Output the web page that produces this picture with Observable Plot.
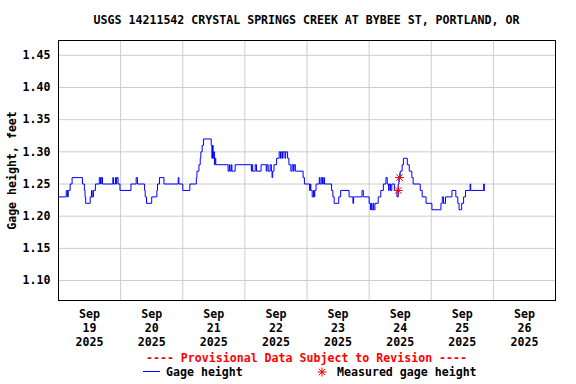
<!DOCTYPE html>
<html><head><meta charset="utf-8">
<script src="https://cdn.jsdelivr.net/npm/d3@7"></script>
<script src="https://cdn.jsdelivr.net/npm/@observablehq/plot@0.6"></script>
<style>
body{margin:0;background:#fff;}
#wrap{position:relative;width:576px;height:384px;overflow:hidden;font-family:"DejaVu Sans Mono",monospace;font-weight:bold;font-size:11.6px;color:#000;}
.t{position:absolute;left:58px;width:497px;text-align:center;line-height:14px;white-space:pre;}
#chart{position:absolute;left:0;top:30px;}
.lg{position:absolute;line-height:14px;white-space:pre;}
</style></head>
<body><div id="wrap">
<div class="t" id="title" style="top:13px"></div>
<div id="chart"></div>
<div class="t" id="prov" style="top:351px;color:#ff0000"></div>
<div id="legend"></div>
</div>
<script>
const title = "USGS 14211542 CRYSTAL SPRINGS CREEK AT BYBEE ST, PORTLAND, OR";
const year = "2025";
const times = [
"09-19 00:00","09-19 03:00","09-19 03:30","09-19 03:45","09-19 04:30","09-19 05:15","09-19 09:15","09-19 10:00","09-19 10:15","09-19 10:30",
"09-19 12:15","09-19 12:45","09-19 13:00","09-19 13:30","09-19 14:15","09-19 15:45","09-19 16:15","09-19 16:30","09-19 17:00","09-19 21:00",
"09-19 21:15","09-19 22:00","09-19 22:15","09-19 22:30","09-19 23:00","09-19 23:45",
"09-20 04:00","09-20 06:00","09-20 06:30","09-20 09:15","09-20 09:30","09-20 10:00","09-20 12:00","09-20 14:00","09-20 14:15","09-20 15:00",
"09-20 16:45","09-20 22:15","09-20 22:30",
"09-21 00:00","09-21 02:45","09-21 05:15","09-21 05:30","09-21 06:15","09-21 06:45","09-21 07:00","09-21 07:30","09-21 08:00","09-21 11:00",
"09-21 11:15","09-21 11:30","09-21 11:45","09-21 12:00","09-21 12:15","09-21 12:30","09-21 12:45","09-21 17:30","09-21 18:00","09-21 18:15",
"09-21 18:45","09-21 19:00","09-21 20:15",
"09-22 02:30","09-22 02:45","09-22 03:00","09-22 04:00","09-22 04:30","09-22 06:15","09-22 08:15","09-22 08:30","09-22 09:00","09-22 09:45",
"09-22 10:15","09-22 10:30","09-22 10:45","09-22 11:15","09-22 12:15","09-22 13:15","09-22 13:45","09-22 14:00","09-22 14:30","09-22 14:45",
"09-22 15:30","09-22 15:45","09-22 16:30","09-22 17:00","09-22 17:45","09-22 18:15","09-22 18:45","09-22 19:00","09-22 19:30","09-22 22:30",
"09-22 23:00",
"09-23 01:00","09-23 01:15","09-23 01:30","09-23 02:00","09-23 02:30","09-23 02:45","09-23 03:00","09-23 03:30","09-23 04:45","09-23 05:00",
"09-23 05:30","09-23 06:00","09-23 06:30","09-23 06:45","09-23 09:30","09-23 10:00","09-23 10:30","09-23 12:15","09-23 13:00","09-23 16:15",
"09-23 17:45","09-23 18:00","09-23 21:15","09-23 21:45",
"09-24 00:00","09-24 00:30","09-24 00:45","09-24 01:00","09-24 01:30","09-24 01:45","09-24 02:15","09-24 03:30","09-24 04:30","09-24 05:30",
"09-24 06:30","09-24 07:00","09-24 07:30","09-24 07:45","09-24 08:15","09-24 08:45","09-24 09:45","09-24 10:45","09-24 11:15","09-24 11:30",
"09-24 12:00","09-24 12:45","09-24 13:15","09-24 14:45","09-24 15:30","09-24 16:30","09-24 17:00","09-24 19:45","09-24 20:30","09-24 22:00",
"09-25 00:15","09-25 03:45","09-25 04:15","09-25 04:45","09-25 05:30","09-25 08:00","09-25 09:30","09-25 10:15","09-25 10:45","09-25 11:45",
"09-25 12:30","09-25 13:15","09-25 15:00","09-25 15:15","09-25 20:15","09-25 20:30","09-25 20:45"
];
const heights = [
1.23,1.24,1.23,1.24,1.25,1.26,1.25,1.24,1.23,1.22,
1.23,1.24,1.23,1.24,1.25,1.26,1.25,1.26,1.25,1.26,
1.25,1.26,1.25,1.26,1.25,1.24,
1.25,1.26,1.25,1.24,1.23,1.22,1.23,1.24,1.25,1.26,
1.25,1.26,1.25,
1.24,1.25,1.26,1.27,1.28,1.29,1.30,1.31,1.32,1.31,
1.29,1.31,1.29,1.30,1.28,1.29,1.28,1.27,1.28,1.27,
1.28,1.27,1.28,
1.27,1.28,1.27,1.28,1.27,1.28,1.27,1.28,1.27,1.28,
1.27,1.26,1.27,1.28,1.29,1.30,1.29,1.30,1.29,1.30,
1.29,1.30,1.29,1.28,1.27,1.28,1.27,1.28,1.27,1.26,
1.25,
1.24,1.25,1.24,1.23,1.24,1.23,1.24,1.25,1.26,1.25,
1.26,1.25,1.26,1.25,1.24,1.23,1.22,1.23,1.24,1.23,
1.22,1.23,1.24,1.23,
1.22,1.21,1.22,1.21,1.22,1.21,1.22,1.23,1.24,1.25,
1.26,1.25,1.24,1.25,1.24,1.25,1.24,1.23,1.25,1.26,
1.27,1.28,1.29,1.28,1.27,1.26,1.25,1.24,1.23,1.22,
1.21,1.22,1.23,1.22,1.23,1.24,1.23,1.22,1.21,1.22,
1.23,1.24,1.25,1.24,1.25,1.24,1.24
];
const measuredTimes = ["09-24 11:15","09-24 11:45"];
const measuredHeights = [1.24, 1.26];
const domainStart = "09-19 00:00";
const domainEnd = "09-27 00:00";
const gridDays = ["09-20","09-21","09-22","09-23","09-24","09-25","09-26"];
const tickDays = ["19","20","21","22","23","24","25","26"];
const tickMonth = "Sep";
const yDomain = [1.069, 1.473];
const yTicks = [1.10,1.15,1.20,1.25,1.30,1.35,1.40,1.45];
const yLabel = "Gage height, feet";
const provisional = "---- Provisional Data Subject to Revision ----";
const legendLabels = ["Gage height", "Measured gage height"];

const parse = d3.utcParse("%Y-%m-%d %H:%M");
const P = s => parse(year + "-" + s);
const data = times.map((t, i) => ({date: P(t), value: heights[i]}));
const meas = measuredTimes.map((t, i) => ({date: P(t), value: measuredHeights[i]}));
const gridDates = gridDays.map(d => P(d + " 00:00"));
const tickDates = tickDays.map(d => P("09-" + d + " 12:00"));

const chart = Plot.plot({
  width: 576, height: 320,
  marginLeft: 58, marginRight: 21, marginTop: 10, marginBottom: 50,
  style: {fontFamily: "'DejaVu Sans Mono', monospace", fontSize: "11.6px", fontWeight: "bold", background: "white", color: "black"},
  x: {type: "utc", domain: [P(domainStart), P(domainEnd)], label: null},
  y: {domain: yDomain, label: null},
  marks: [
    Plot.gridX(gridDates, {stroke: "#cccccc", strokeOpacity: 1}),
    Plot.gridY(yTicks, {stroke: "#cccccc", strokeOpacity: 1}),
    Plot.line(data, {x: "date", y: "value", curve: "step-after", stroke: "#0000ff", strokeWidth: 1}),
    Plot.dot(meas, {x: "date", y: "value", symbol: "plus", r: 3, stroke: "#ff0000", strokeWidth: 1}),
    Plot.dot(meas, {x: "date", y: "value", symbol: "times", r: 3, stroke: "#ff0000", strokeWidth: 1}),
    Plot.frame({stroke: "black"}),
    Plot.axisX(tickDates, {tickSize: 0, tickPadding: 8, lineHeight: 1.18, label: null,
      tickFormat: d => `${tickMonth}\n${tickDays[tickDates.findIndex(t => +t === +d)]}\n${year}`}),
    Plot.axisY(yTicks, {tickSize: 0, tickPadding: 8, label: null, tickFormat: d => d.toFixed(2)}),
    Plot.text([yLabel], {frameAnchor: "left", rotate: -90, dx: -46, textAnchor: "middle"})
  ]
});
document.getElementById("chart").appendChild(chart);
document.getElementById("title").textContent = title;
document.getElementById("prov").textContent = provisional;

const lg = document.getElementById("legend");
lg.innerHTML = `
<div style="position:absolute;left:143px;top:371px;width:17px;height:1px;background:#0000ff"></div>
<div class="lg" style="left:166px;top:365px">${legendLabels[0]}</div>
<svg style="position:absolute;left:316px;top:366px" width="12" height="12" viewBox="-6 -6 12 12">
<g stroke="#ff0000" stroke-width="1"><line x1="-4.5" y1="0" x2="4.5" y2="0"/><line x1="0" y1="-4.5" x2="0" y2="4.5"/>
<line x1="-3.2" y1="-3.2" x2="3.2" y2="3.2"/><line x1="-3.2" y1="3.2" x2="3.2" y2="-3.2"/></g></svg>
<div class="lg" style="left:337px;top:365px">${legendLabels[1]}</div>`;
</script>
</body></html>
